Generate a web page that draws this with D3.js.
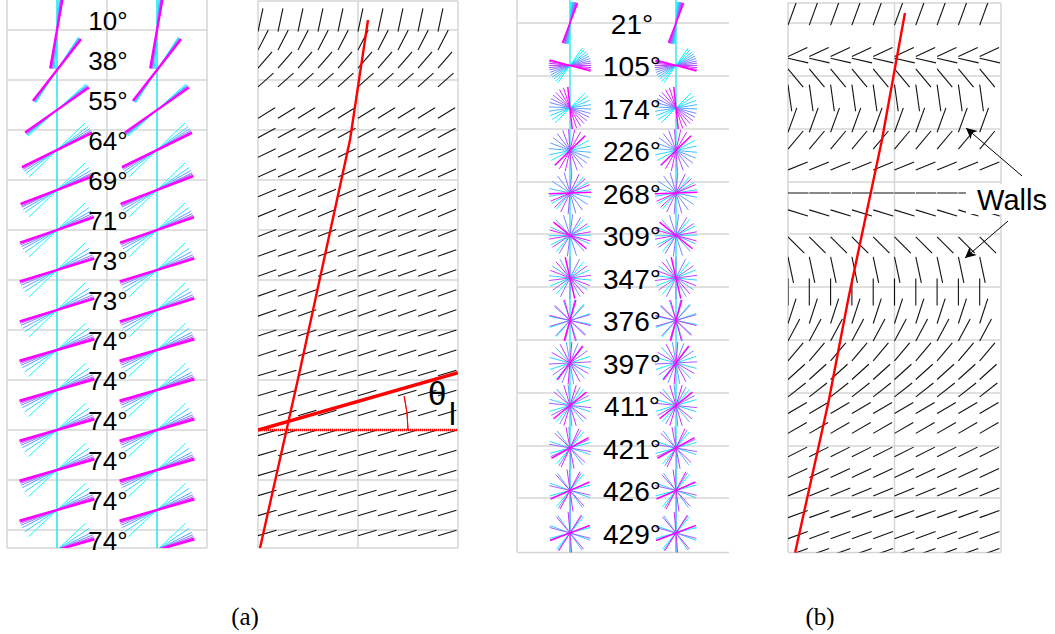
<!DOCTYPE html>
<html><head><meta charset="utf-8">
<script src="https://cdn.jsdelivr.net/npm/d3@7"></script>
<style>body{margin:0;background:#fff}svg{display:block}</style></head>
<body><svg id="c" width="1055" height="634"></svg>
<script>
// ---------------- DATA ----------------
// (a) twist label per snapshot row (degrees from vertical of top-layer director)
const twistA = [10,38,55,64,69,71,73,73,74,74,74,74,74,74];
// director angles through depth (cyan -> magenta), degrees from vertical
const fanA = [
  [2,4,6,7,8,9,10],
  [33,34,35,36,37,38,38],
  [48,50,51,52,53,54,55],
  [46,53,57,60,62,63,64],
  [46,55,60,64,66,68,69],
  [46,55,61,65,68,70,71],
  [46,56,62,67,70,72,73],
  [46,56,62,67,70,72,73],
  [47,56,63,67,70,72,74],
  [47,56,63,67,70,72,74],
  [47,56,63,67,70,72,74],
  [47,56,63,67,70,72,74],
  [47,56,63,67,70,72,74],
  [47,56,63,67,70,72,74]
];
// (b) twist labels
const twistB = [21,105,174,226,268,309,347,376,397,411,421,426,429];
const fanB = [
  [3,5,7,9,11,12,14,15,17,18,20,21],
  [35,42,50,57,64,71,78,84,90,96,101,105],
  [45,57,69,81,93,105,116,127,138,150,162,174],
  [45,62,78,95,111,127,143,160,176,193,210,226],
  [40,60,81,102,123,144,164,185,206,227,247,268],
  [40,64,89,113,138,162,187,211,236,260,285,309],
  [40,68,96,124,152,180,207,235,263,291,319,347],
  [40,71,101,132,162,193,223,254,284,315,345,376],
  [40,72,105,137,170,202,235,267,300,332,365,397],
  [40,74,107,141,175,209,242,276,310,343,377,411],
  [40,75,108,143,177,212,246,280,314,349,385,421],
  [40,75,110,144,179,213,248,283,318,352,388,426],
  [40,75,110,145,180,215,250,285,320,355,392,429]
];
// (a) director field: row depth (units) and angle (deg from vertical)
const fieldA_t = [1,2,3,4,5.65,6.65,7.65,8.65,9.65,10.65,11.65,12.65,13.65,14.65,15.65,16.65,17.65,18.65,19.65,20.65,21.65,22.65,23.65,24.65,25.65,26.65,27.65];
const fieldA_ang = [12,27,41,48,58,62,64,66,67,68,69,70,70,71,71,72,72,73,73,73,74,74,74,74,74,74,74];
// (b) director field
const fieldB_t = [0.61,2.45,2.85,3.67,4.61,5.65,6.59,7.81,9.08,10.02,11.53,12.7,13.74,14.64,15.53,16.56,17.5,18.35,19.2,20.14,21.27,22.26,23.15,24.19,25.18,25.98];
const fieldB_ang = [20,65,103,140,172,20,40,68,90,107,135,168,180,18,28,40,48,52,60,60,63,65,68,70,70,70];
// red traces (x units, depth units)
const traceA = [[5.5,1.0],[4.6,7.0],[2.1,18.5],[0.1,27.4]];
const traceB = [[5.49,0.61],[4.41,6.59],[2.82,14.12],[1.92,18.82],[0.33,26.02]];
const thetaL = 16;        // degrees
const thetaLineT = 21.5;  // depth of reference line
const gridA = [1.5,4,6.5,9,11.5,14,16.5,19,21.5,24,26.5];
const gridB = [1.08,3.58,6.07,8.56,11.01,13.5,16,18.49,20.99,23.43,26.0];
const panelLabels = ["(a)","(b)"];

// ---------------- DRAW ----------------
const svg = d3.select("#c");
const defs = svg.append("defs");
const cool = t => d3.interpolateRgb("#00ffff","#ff00ff")(t);
const GRID = "#d6d6d6";
const rad = d => d*Math.PI/180;
const SANS = "Liberation Sans, Arial, sans-serif";

// scales
const yA = d3.scaleLinear().domain([0,27.4]).range([0,548]);
const yB = d3.scaleLinear().domain([0,26]).range([0,552.5]);
const x1 = d3.scaleLinear().domain([0,2]).range([7,207]);
const x2 = d3.scaleLinear().domain([0,10]).range([258,458]);
const x3 = d3.scaleLinear().domain([0,2]).range([517,729]);
const x4 = d3.scaleLinear().domain([0,10]).range([788,1001]);

function clip(id, x, y, w, h){
  defs.append("clipPath").attr("id",id).append("rect").attr("x",x).attr("y",y).attr("width",w).attr("height",h);
  return `url(#${id})`;
}
function grid(g, xs, ys, vx, hy, x0, x1v, yTop, yBot){
  vx.forEach(v=>g.append("line").attr("x1",xs(v)).attr("x2",xs(v)).attr("y1",yTop).attr("y2",yBot)
    .attr("stroke",GRID).attr("stroke-width",1.5));
  hy.forEach(v=>g.append("line").attr("x1",x0).attr("x2",x1v).attr("y1",ys(v)).attr("y2",ys(v))
    .attr("stroke",GRID).attr("stroke-width",1.5));
}
function fan(g, cx, cy, h, angs, wLast, w){
  const n = angs.length;
  angs.forEach((a,j)=>{
    const dx = h*Math.sin(rad(a)), dy = h*Math.cos(rad(a));
    g.append("line").attr("x1",cx-dx).attr("y1",cy+dy).attr("x2",cx+dx).attr("y2",cy-dy)
      .attr("stroke",cool(j/(n-1))).attr("stroke-width", j===n-1?wLast:w);
  });
}
// quiver-like segment: tail at column position, pointing along director;
// plot aspect is not 1:1, so segment length depends on direction (ellipse Lx, Ly)
function field(g, xs, ys, rowsT, rowsAng, cols, Lx, Ly){
  rowsT.forEach((t,i)=>{
    const a = rad(rowsAng[i]);
    const s = Math.sin(a), c = Math.cos(a);
    const L = 1/Math.sqrt(s*s/(Lx*Lx) + c*c/(Ly*Ly));
    const dx = L*s, dy = -L*c;
    cols.forEach(k=>{
      const xt = xs(k), yc = ys(t);
      g.append("line").attr("x1",xt).attr("y1",yc-dy/2).attr("x2",xt+dx).attr("y2",yc+dy/2)
        .attr("stroke","#111").attr("stroke-width",1.1);
    });
  });
}

// Panel 1
const p1 = svg.append("g");
grid(p1, x1, yA, [0,1,2], gridA.concat([27.4]), x1(0), x1(2), 0, yA(27.4));
const g1 = p1.append("g").attr("clip-path", clip("cp1", x1(0), 0, x1(2)-x1(0), yA(27.4)));
[0.5,1.5].forEach(c=>g1.append("line").attr("x1",x1(c)).attr("x2",x1(c)).attr("y1",0).attr("y2",yA(27.4))
  .attr("stroke","#2ee6f2").attr("stroke-width",1.6));
fanA.forEach((angs,i)=>{
  const cy = yA(1.5+2*i);
  [0.5,1.5].forEach(c=>fan(g1, x1(c), cy, x1(0.39)-x1(0), angs, 2.4, 1));
});
twistA.forEach((v,i)=>{
  p1.append("text").attr("x",x1(1)+1).attr("y",yA(1.5+2*i)).attr("text-anchor","middle")
    .attr("font-family",SANS).attr("font-size",26).attr("fill","#000").text(v+"°");
});

// Panel 2
const p2 = svg.append("g");
grid(p2, x2, yA, [0,5,10], [0.05].concat(gridA,[27.4]), x2(0), x2(10), 1, yA(27.4));
const f2 = p2.append("g").attr("clip-path", clip("cp2", x2(0), 1, x2(10)-x2(0), yA(27.4)-1));
field(f2, x2, yA, fieldA_t, fieldA_ang, d3.range(0,10), 19, 24);
const lineA = d3.line().x(d=>x2(d[0])).y(d=>yA(d[1]));
f2.append("path").attr("d",lineA(traceA)).attr("fill","none").attr("stroke","#ff0000").attr("stroke-width",2.4);
const y0 = yA(thetaLineT);
f2.append("line").attr("x1",x2(0)).attr("x2",x2(10)).attr("y1",y0).attr("y2",y0)
  .attr("stroke","#ff0000").attr("stroke-width",2.4).attr("stroke-dasharray","1.2,0.8");
f2.append("line").attr("x1",x2(0)).attr("y1",y0).attr("x2",x2(10))
  .attr("y2",y0-(x2(10)-x2(0))*Math.tan(rad(thetaL))).attr("stroke","#ff0000").attr("stroke-width",3.4);
const arc = d3.arc().innerRadius(150).outerRadius(150).startAngle(rad(90-13)).endAngle(rad(90));
f2.append("path").attr("d",arc()).attr("transform",`translate(${x2(0)},${y0})`).attr("fill","none").attr("stroke","#ff0000").attr("stroke-width",1);
p2.append("text").attr("x",428).attr("y",405).attr("font-family",SANS).attr("font-size",33).text("θ");
p2.append("text").attr("x",449).attr("y",425).attr("font-family",SANS).attr("font-size",31).text("l");

// Panel 3
const p3 = svg.append("g");
grid(p3, x3, yB, [0], gridB, x3(0), x3(2), 0, yB(26));
const g3 = p3.append("g").attr("clip-path", clip("cp3", x3(0), 0, x3(2)-x3(0), yB(26)));
[0.5,1.5].forEach(c=>g3.append("line").attr("x1",x3(c)).attr("x2",x3(c)).attr("y1",0).attr("y2",yB(26))
  .attr("stroke","#2ee6f2").attr("stroke-width",1.4));
fanB.forEach((angs,i)=>{
  const cy = yB(1.08+2*i);
  [0.5,1.5].forEach(c=>fan(g3, x3(c), cy, x3(0.2)-x3(0), angs, 1.5, 1));
});
twistB.forEach((v,i)=>{
  p3.append("text").attr("x",x3(1)+9).attr("y",yB(1.08+2*i)+11).attr("text-anchor","middle")
    .attr("font-family",SANS).attr("font-size",28).attr("fill","#000").text(v+"°");
});

// Panel 4
const p4 = svg.append("g");
grid(p4, x4, yB, [0,5,10], [0.14].concat(gridB), x4(0), x4(10), yB(0.14), yB(26));
const f4 = p4.append("g").attr("clip-path", clip("cp4", x4(0), yB(0.14), x4(10)-x4(0), yB(26)-yB(0.14)));
field(f4, x4, yB, fieldB_t, fieldB_ang, d3.range(0,10), 20.5, 27);
const lineB = d3.line().x(d=>x4(d[0])).y(d=>yB(d[1]));
f4.append("path").attr("d",lineB(traceB)).attr("fill","none").attr("stroke","#ff0000").attr("stroke-width",2.4);

// Walls annotation
svg.append("rect").attr("x",966).attr("y",184).attr("width",89).attr("height",30).attr("fill","#fff");
svg.append("text").attr("x",1012).attr("y",210).attr("text-anchor","middle")
  .attr("font-family",SANS).attr("font-size",29).text("Walls");
defs.append("marker").attr("id","ah").attr("viewBox","0 0 10 10").attr("refX",10).attr("refY",5)
  .attr("markerWidth",18).attr("markerHeight",11).attr("markerUnits","userSpaceOnUse").attr("orient","auto")
  .append("path").attr("d","M0,0L10,5L0,10L3,5Z").attr("fill","#000");
svg.append("line").attr("x1",1022).attr("y1",176).attr("x2",966).attr("y2",128).attr("stroke","#000").attr("stroke-width",1).attr("marker-end","url(#ah)");
svg.append("line").attr("x1",1008).attr("y1",221).attr("x2",965).attr("y2",258).attr("stroke","#000").attr("stroke-width",1).attr("marker-end","url(#ah)");

// panel labels
[[245,panelLabels[0]],[820,panelLabels[1]]].forEach(([x,t])=>{
  svg.append("text").attr("x",x).attr("y",625).attr("text-anchor","middle")
    .attr("font-family","Liberation Serif, DejaVu Serif, serif").attr("font-size",25).text(t);
});
</script></body></html>
